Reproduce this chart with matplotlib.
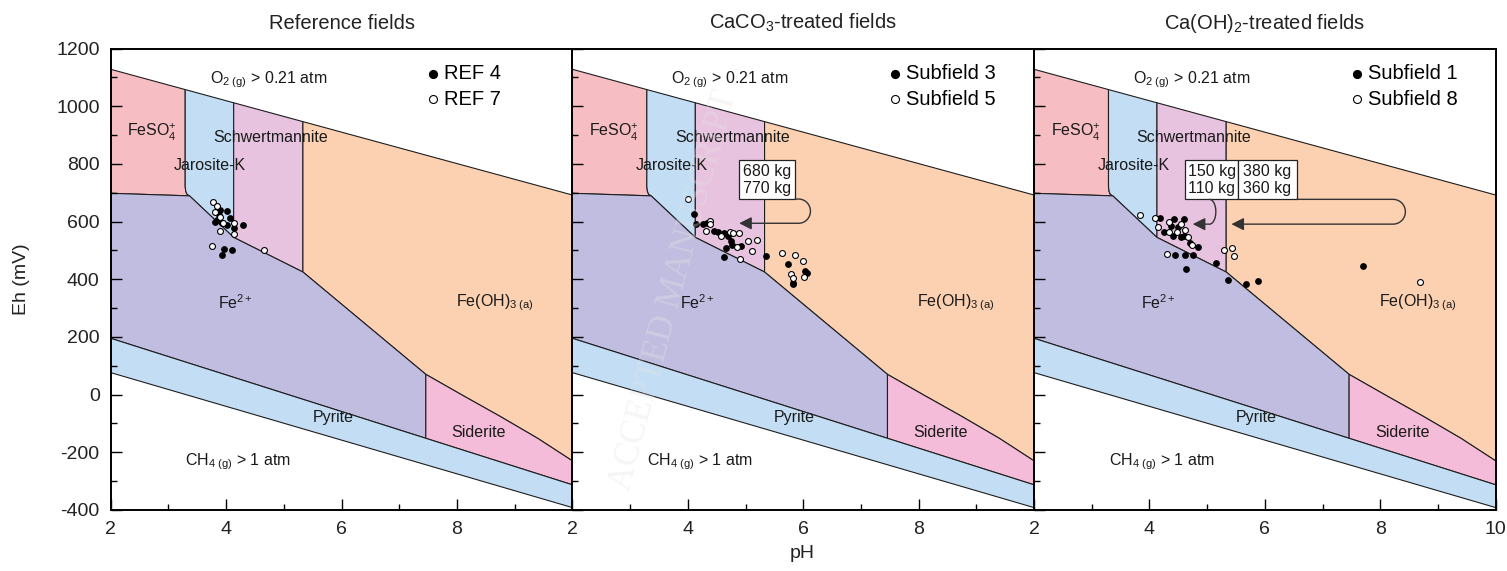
import numpy as np
import matplotlib.pyplot as plt
from matplotlib.patches import Polygon, Rectangle, FancyArrowPatch
from matplotlib.path import Path

plt.rcParams['font.family'] = ['Liberation Sans', 'DejaVu Sans']
plt.rcParams['mathtext.fontset'] = 'custom'
plt.rcParams['mathtext.rm'] = 'Liberation Sans'
plt.rcParams['mathtext.it'] = 'Liberation Sans:italic'
plt.rcParams['mathtext.bf'] = 'Liberation Sans:bold'
plt.rcParams['axes.unicode_minus'] = False

# ---- stability field boundaries (pH, Eh in mV) ----
o2_ph = [2, 10]
o2_eh = [1128, 692]
pyrite_top_eh = [195, -313]      # Fe2+ / pyrite line at pH 2 and 10
pyrite_bot_eh = [76, -392]       # pyrite / CH4 line at pH 2 and 10
feso4_bottom = [(2, 698), (3.365, 689)]
jarosite_curve = [(3.29, 721), (3.30, 705), (3.32, 695), (3.365, 689)]
fe2_top = [(3.365, 689), (4.13, 545), (5.33, 425), (7.46, 70)]
siderite_top = [(7.46, 70), (8.1, -3), (8.75, -76), (9.4, -152), (10, -230)]
jarosite_ph = 3.29
schwert_ph = 4.13
feoh3_ph = 5.33
siderite_ph = 7.46

field_colors = {
    'FeSO4+': '#f6bec2',
    'Jarosite-K': '#c3def4',
    'Schwertmannite': '#e8c3df',
    'Fe(OH)3': '#fcd1b1',
    'Fe2+': '#c1bde0',
    'Siderite': '#f4bcd8',
    'Pyrite': '#c3def4',
}

# ---- measured points ----
ref4_ph = [3.89, 4.01, 4.07, 3.84, 3.93, 4.01, 4.14, 4.29, 3.97, 4.10, 3.93, 3.81, 3.87]
ref4_eh = [640, 637, 611, 605, 596, 588, 579, 588, 505, 501, 485, 599, 623]
ref7_ph = [3.77, 3.84, 3.80, 4.13, 3.90, 4.13, 3.75, 4.65, 3.95, 3.90]
ref7_eh = [667, 654, 632, 594, 567, 557, 514, 501, 594, 617]

sub3_ph = [4.10, 4.14, 4.26, 4.34, 4.46, 4.53, 4.62, 4.69, 4.75, 4.76, 4.92, 4.67,
           4.63, 5.36, 5.73, 6.03, 6.07, 5.83, 5.83]
sub3_eh = [625, 591, 591, 596, 567, 565, 559, 550, 532, 519, 515, 509,
           476, 482, 452, 427, 423, 382, 388]
sub5_ph = [4.00, 4.39, 4.39, 4.31, 4.57, 4.73, 4.78, 4.88, 5.05, 5.20, 4.86, 5.12,
           4.91, 5.63, 5.85, 6.00, 5.79, 5.82, 6.02]
sub5_eh = [678, 603, 591, 568, 550, 565, 559, 562, 531, 536, 513, 497,
           471, 492, 483, 464, 418, 403, 409]

sub1_ph = [4.19, 4.43, 4.60, 4.38, 4.49, 4.25, 4.41, 4.55, 4.60, 4.70, 4.84, 4.44,
           4.61, 4.75, 4.63, 5.16, 5.36, 5.67, 5.88, 7.70]
sub1_eh = [613, 609, 608, 585, 580, 565, 550, 545, 550, 525, 513, 484,
           484, 484, 434, 455, 397, 383, 393, 446]
sub8_ph = [3.84, 4.10, 4.15, 4.34, 4.55, 4.62, 4.34, 4.47, 4.66, 4.73, 4.31,
           5.29, 5.43, 5.47, 8.68]
sub8_eh = [623, 611, 580, 599, 590, 571, 565, 563, 545, 519, 488,
           501, 507, 480, 390]

titles = ['Reference fields', 'CaCO$_3$-treated fields', 'Ca(OH)$_2$-treated fields']
filled_sets = [(ref4_ph, ref4_eh, 'REF 4'), (sub3_ph, sub3_eh, 'Subfield 3'),
               (sub1_ph, sub1_eh, 'Subfield 1')]
open_sets = [(ref7_ph, ref7_eh, 'REF 7'), (sub5_ph, sub5_eh, 'Subfield 5'),
             (sub8_ph, sub8_eh, 'Subfield 8')]

field_labels = [
    ('O$_{\\mathrm{2\\ (g)}}$ > 0.21 atm', 4.73, 1091),
    ('FeSO$_{4}^{+}$', 2.72, 910),
    ('Schwertmannite', 4.77, 893),
    ('Jarosite-K', 3.72, 793),
    ('Fe$^{2+}$', 4.16, 318),
    ('Fe(OH)$_{\\mathrm{3\\ (a)}}$', 8.65, 318),
    ('Pyrite', 5.85, -81),
    ('Siderite', 8.38, -133),
    ('CH$_{\\mathrm{4\\ (g)}}$ > 1 atm', 4.21, -234),
]


def o2(ph):
    return float(np.interp(ph, o2_ph, o2_eh))


def pyr_top(ph):
    return float(np.interp(ph, o2_ph, pyrite_top_eh))


def build_fields():
    fields = {}
    fields['FeSO4+'] = ([(2, o2(2)), (jarosite_ph, o2(jarosite_ph))]
                        + jarosite_curve + feso4_bottom[::-1])
    fields['Jarosite-K'] = ([(jarosite_ph, o2(jarosite_ph)), (schwert_ph, o2(schwert_ph)),
                             fe2_top[1]] + jarosite_curve[::-1])
    fields['Schwertmannite'] = [(schwert_ph, o2(schwert_ph)), (feoh3_ph, o2(feoh3_ph)),
                                fe2_top[2], fe2_top[1]]
    fields['Fe(OH)3'] = ([(feoh3_ph, o2(feoh3_ph)), (10, o2(10))]
                         + siderite_top[::-1] + [fe2_top[2]])
    fields['Fe2+'] = (feso4_bottom + fe2_top[1:]
                      + [(siderite_ph, pyr_top(siderite_ph)), (2, pyrite_top_eh[0])])
    fields['Siderite'] = siderite_top + [(10, pyrite_top_eh[1]),
                                         (siderite_ph, pyr_top(siderite_ph))]
    fields['Pyrite'] = [(2, pyrite_top_eh[0]), (10, pyrite_top_eh[1]),
                        (10, pyrite_bot_eh[1]), (2, pyrite_bot_eh[0])]
    return fields


def loop_arrow(ax, start, turn_ph, tip_ph, r_ph, r_eh):
    """Line that leaves a box, loops back through a half turn and points left."""
    x0, y0 = start
    cy = y0 - r_eh
    t = np.linspace(np.pi / 2, -np.pi / 2, 40)
    xs = list(turn_ph + r_ph * np.cos(t)) + [tip_ph]
    ys = list(cy + r_eh * np.sin(t)) + [cy - r_eh]
    if abs(x0 - turn_ph) > 1e-6:
        xs = [x0] + xs
        ys = [y0] + ys
    arrow = FancyArrowPatch(path=Path(np.column_stack([xs, ys])),
                            arrowstyle='-|>,head_length=0.75,head_width=0.38',
                            mutation_scale=10, color='#333333', lw=1.0, zorder=5)
    ax.add_patch(arrow)


def dose_box(ax, x0, x1, text):
    ax.add_patch(Rectangle((x0, 678), x1 - x0, 135, fc='white', ec='#222222',
                           lw=0.9, zorder=5))
    ax.text((x0 + x1) / 2, 745, text, ha='center', va='center', fontsize=11.5,
            linespacing=1.2, color='#1a1a1a', zorder=6)


fig, axes = plt.subplots(1, 3, figsize=(15.07, 5.71), dpi=100, sharey=True)
fig.subplots_adjust(left=0.0735, right=0.9925, top=0.915, bottom=0.107, wspace=0)

fields = build_fields()
for i, ax in enumerate(axes):
    for name, verts in fields.items():
        ax.add_patch(Polygon(verts, closed=True, fc=field_colors[name],
                             ec='#1e1e1e', lw=0.8, zorder=1))
    for text, x, y in field_labels:
        ax.text(x, y, text, ha='center', va='center', fontsize=11.5,
                color='#1a1a1a', zorder=2)

    fx, fy, flab = filled_sets[i]
    ox, oy, olab = open_sets[i]
    ax.scatter(fx, fy, s=24, c='black', lw=0, zorder=3, label=flab)
    ax.scatter(ox, oy, s=18, c='white', edgecolors='black', lw=0.8, zorder=3,
               label=olab)
    ax.legend(loc='upper left', bbox_to_anchor=(0.655, 0.988), frameon=False,
              fontsize=14.5, handletextpad=0.05, handlelength=1.0,
              labelspacing=0.32, borderpad=0, markerscale=1.35)

    ax.set_xlim(2, 10)
    ax.set_ylim(-400, 1200)
    if i < 2:
        ax.set_xticks([2, 4, 6, 8])
    else:
        ax.set_xticks([2, 4, 6, 8, 10])
    ax.set_xticks([3, 5, 7, 9], minor=True)
    ax.set_yticks(range(-400, 1201, 200))
    ax.set_yticks(range(-300, 1200, 200), minor=True)
    ax.tick_params(which='both', direction='in', width=1.0, colors='black',
                   labelsize=14, labelcolor='#222222', pad=8)
    ax.tick_params(which='major', length=8)
    ax.tick_params(which='minor', length=4.5)
    if i > 0:
        ax.tick_params(labelleft=False)
    for sp in ax.spines.values():
        sp.set_linewidth(1.4)
    ax.set_title(titles[i], fontsize=14.5, pad=14, color='#222222')

# dose annotations
dose_box(axes[1], 4.88, 5.86, '680 kg\n770 kg')
loop_arrow(axes[1], (5.86, 678), 5.92, 4.89, 0.205, 42)

dose_box(axes[2], 4.62, 5.54, '150 kg\n110 kg')
dose_box(axes[2], 5.54, 6.55, '380 kg\n360 kg')
loop_arrow(axes[2], (5.04, 677), 5.04, 4.75, 0.11, 43)
loop_arrow(axes[2], (6.55, 677), 8.22, 5.42, 0.215, 43)

fig.text(22 / 1507, 1 - 279 / 571, 'Eh (mV)', rotation=90, ha='center',
         va='center', fontsize=14, color='#222222')
fig.text(802 / 1507, 1 - 553 / 571, 'pH', ha='center', va='center',
         fontsize=14, color='#222222')

# faint journal watermark
fig.text(674 / 1507, 1 - 290 / 571, 'ACCEPTED MANUSCRIPT', rotation=75,
         ha='center', va='center', fontsize=25, family='Liberation Serif',
         color='#e4e4e4', alpha=0.35, zorder=10)

fig.savefig('out.png', dpi=100)
